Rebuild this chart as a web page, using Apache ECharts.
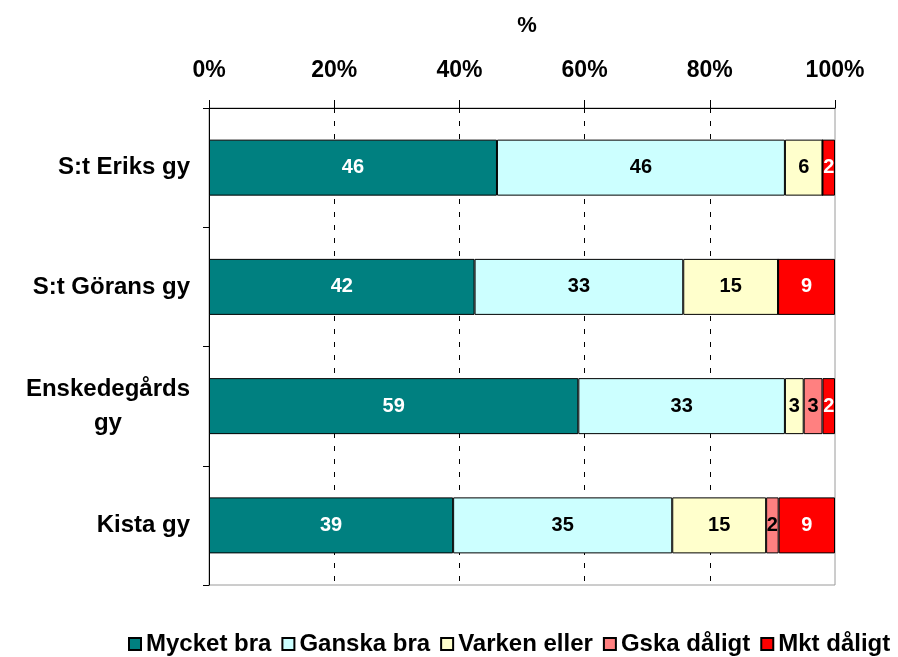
<!DOCTYPE html>
<html>
<head>
<meta charset="utf-8">
<script src="https://cdn.jsdelivr.net/npm/echarts@6/dist/echarts.min.js"></script>
<style>
  html, body { margin: 0; padding: 0; background: #fff; }
  #chart { width: 898px; height: 657px; }
</style>
</head>
<body>
<div id="chart"></div>
<script>
// schools, top to bottom
const schools = ['S:t Eriks gy', 'S:t Görans gy', 'Enskedegårds\ngy', 'Kista gy']

// answers in percent, one array per answer
const mycketBra = [46, 42, 59, 39]
const ganskaBra = [46, 33, 33, 35]
const varkenEller = [6, 15, 3, 15]
const gskaDaligt = [0, 0, 3, 2]
const mktDaligt = [2, 9, 2, 9]

const tickLabels = ['0%', '20%', '40%', '60%', '80%', '100%']

const font = '"Liberation Sans", Arial, sans-serif'

const chart = echarts.init(document.getElementById('chart'))

const rows = [
  { name: 'Mycket bra', data: mycketBra, color: '#008080', text: '#fff' },
  { name: 'Ganska bra', data: ganskaBra, color: '#CCFFFF', text: '#000' },
  { name: 'Varken eller', data: varkenEller, color: '#FFFFCC', text: '#000' },
  { name: 'Gska dåligt', data: gskaDaligt, color: '#FF8080', text: '#000' },
  { name: 'Mkt dåligt', data: mktDaligt, color: '#FF0000', text: '#fff' }
]

// 100% stacked like Excel: each school scaled to its own total
const totals = schools.map((s, i) => rows.reduce((sum, r) => sum + r.data[i], 0))

var option = {
  animation: false,
  title: {
    text: '%',
    left: 522,
    top: 10,
    textAlign: 'center',
    textStyle: { fontFamily: font, fontWeight: 'bold', fontSize: 22, color: '#000' }
  },
  legend: {
    top: 627,
    left: 123,
    width: 800,
    padding: 5,
    itemWidth: 12,
    itemHeight: 12,
    itemGap: 10,
    icon: 'rect',
    textStyle: { fontFamily: font, fontWeight: 'bold', fontSize: 24, color: '#000' }
  },
  grid: {
    left: 209,
    right: 63,
    top: 108,
    bottom: 72,
    show: true,
    borderColor: '#9a9a9a',
    borderWidth: 1
  },
  xAxis: {
    type: 'value',
    position: 'top',
    min: 0,
    max: 100,
    interval: 20,
    axisLine: { show: true, lineStyle: { color: '#000', width: 1 } },
    axisTick: { show: true, length: 8, lineStyle: { color: '#000' } },
    axisLabel: {
      formatter: v => tickLabels[v / 20],
      fontFamily: font,
      fontWeight: 'bold',
      fontSize: 23,
      color: '#000',
      margin: 26
    },
    splitLine: {
      show: true,
      lineStyle: {
        color: ['transparent', '#000', '#000', '#000', '#000', 'transparent'],
        type: [5, 8],
        width: 1
      }
    }
  },
  yAxis: {
    type: 'category',
    inverse: true,
    data: schools,
    axisLine: { show: true, lineStyle: { color: '#000', width: 1 } },
    axisTick: { show: true, length: 6, lineStyle: { color: '#000' } },
    axisLabel: {
      fontFamily: font,
      fontWeight: 'bold',
      fontSize: 24,
      color: '#000',
      margin: 19,
      lineHeight: 34,
      formatter: v => v.indexOf('\n') >= 0 ? '{c|' + v + '}' : v,
      rich: {
        c: {
          align: 'center',
          fontFamily: font,
          fontWeight: 'bold',
          fontSize: 24,
          lineHeight: 34,
          color: '#000'
        }
      }
    }
  },
  series: rows.map(r => ({
    name: r.name,
    type: 'bar',
    stack: 'all',
    barWidth: 56,
    data: r.data.map((v, i) => ({ value: v / totals[i] * 100, raw: v })),
    itemStyle: { color: r.color, borderColor: '#000', borderWidth: 1 },
    label: {
      show: true,
      position: 'inside',
      formatter: p => p.data.raw ? String(p.data.raw) : '',
      fontFamily: font,
      fontWeight: 'bold',
      fontSize: 20,
      color: r.text
    }
  }))
}

chart.setOption(option)
</script>
</body>
</html>
